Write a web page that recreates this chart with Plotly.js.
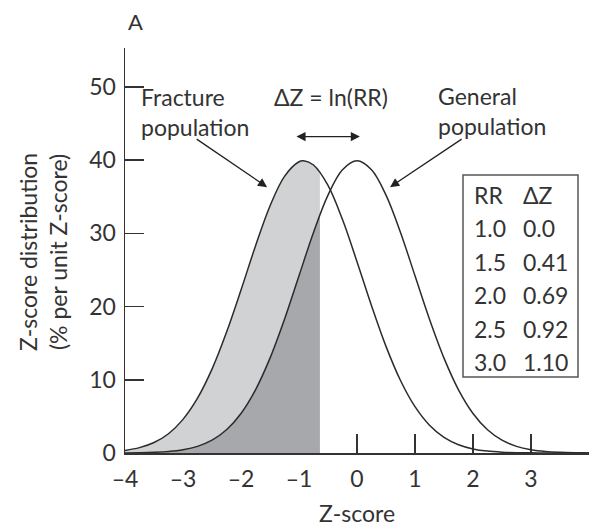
<!DOCTYPE html>
<html>
<head>
<meta charset="utf-8">
<script src="https://cdn.plot.ly/plotly-3.0.1.min.js"></script>
<style>html,body{margin:0;padding:0;background:#fff;}#chart{width:589px;height:526px;}</style>
</head>
<body>
<div id="chart"></div>
<script>
// ---- data ----
const generalX = [-4,-3.75,-3.5,-3.25,-3,-2.75,-2.5,-2.25,-2,-1.75,-1.5,-1.25,-1,-0.75,-0.5,-0.25,0,0.25,0.5,0.75,1,1.25,1.5,1.75,2,2.25,2.5,2.75,3,3.25,3.5,3.75,4];
const generalY = [0.013,0.035,0.087,0.20,0.44,0.91,1.75,3.17,5.40,8.63,12.95,18.26,24.20,30.11,35.21,38.67,39.89,38.67,35.21,30.11,24.20,18.26,12.95,8.63,5.40,3.17,1.75,0.91,0.44,0.20,0.087,0.035,0.013];
const fractureX = [-4,-3.75,-3.5,-3.25,-3,-2.75,-2.5,-2.25,-2,-1.75,-1.5,-1.25,-1,-0.92,-0.75,-0.5,-0.25,0,0.25,0.5,0.75,1,1.25,1.5,1.75,2,2.25,2.5,2.75,3,3.25,3.5,3.75,4];
const fractureY = [0.35,0.73,1.43,2.63,4.59,7.48,11.45,16.48,22.25,28.27,33.73,37.77,39.77,39.89,39.32,36.54,31.87,26.12,20.12,14.56,9.90,6.32,3.79,2.13,1.13,0.56,0.26,0.115,0.047,0.018,0.006,0.002,0.001,0.0];
const shadeCut = -0.64;
const fractureAtCut = 38.36;
const generalAtCut = 32.5;
const xTicks = [-4,-3,-2,-1,0,1,2,3,4];
const yTicks = [0,10,20,30,40,50];
const tableHeader = ['RR','\u0394Z'];
const rrValues = ['1.0','1.5','2.0','2.5','3.0'];
const dzValues = ['0.0','0.41','0.69','0.92','1.10'];

// ---- build shaded areas from the data ----
function upToCut(xs, ys, yCut){
  const ox=[], oy=[];
  xs.forEach((x,i)=>{ if(x<shadeCut){ox.push(x);oy.push(ys[i]);} });
  ox.push(shadeCut); oy.push(yCut);
  return {x:ox,y:oy};
}
const lightShade = upToCut(fractureX, fractureY, fractureAtCut);
const darkShade = upToCut(generalX, generalY, generalAtCut);

const FONT = 'Lato, "DejaVu Sans", sans-serif';
const TXT = '#333';
const LINE = '#2b2b2b';

const traces = [
  {x:lightShade.x, y:lightShade.y, mode:'lines', fill:'tozeroy', fillcolor:'#d1d2d4', line:{width:0, shape:'spline'}, hoverinfo:'skip'},
  {x:darkShade.x, y:darkShade.y, mode:'lines', fill:'tozeroy', fillcolor:'#a7a8ab', line:{width:0, shape:'spline'}, hoverinfo:'skip'},
  {x:generalX, y:generalY, mode:'lines', line:{color:LINE, width:1.5, shape:'spline'}},
  {x:fractureX, y:fractureY, mode:'lines', line:{color:LINE, width:1.5, shape:'spline'}}
];

// pixel -> paper helpers (plot area geometry)
const L=125, T=48, W=464, H=405;
const px = v => (v-L)/W;
const py = v => (T+H-v)/H;

const fs = 23;
const ann = [];
function txt(text, x, y, opts){
  ann.push(Object.assign({text:text, xref:'paper', yref:'paper', x:px(x), y:py(y), showarrow:false,
    font:{family:FONT, size:fs, color:TXT}, xanchor:'center', yanchor:'middle'}, opts||{}));
}
txt('A', 135, 22, {font:{family:FONT, size:22, color:TXT}});
txt('Fracture<br>population', 139, 112, {xanchor:'left', align:'left'});
txt('\u0394Z = ln(RR)', 331, 97);
txt('General<br>population', 436, 111, {xanchor:'left', align:'left'});
txt('Z-score', 357, 513);
txt('Z-score distribution<br>(% per unit Z-score)', 43, 252, {textangle:-90});
// table
txt(tableHeader[0], 472, 195, {xanchor:'left'});
txt(tableHeader[1], 521, 195, {xanchor:'left'});
rrValues.forEach((rr,i)=>{
  const yy = 228 + i*33.5;
  txt(rr, 472, yy, {xanchor:'left'});
  txt(dzValues[i], 521, yy, {xanchor:'left'});
});
// arrows
const arrowBase = {xref:'x', yref:'y', axref:'x', ayref:'y', text:'', showarrow:true, arrowhead:2, arrowsize:1.4, arrowwidth:1.3, arrowcolor:'#222', standoff:0, startstandoff:0};
ann.push(Object.assign({}, arrowBase, {x:-1.55, y:36.3, ax:-2.79, ay:43.0}));
ann.push(Object.assign({}, arrowBase, {x:0.57, y:36.3, ax:1.83, ay:43.0}));
ann.push(Object.assign({}, arrowBase, {x:0.05, y:43.2, ax:-1.07, ay:43.2, arrowside:'end+start', startarrowhead:2, startarrowsize:1.4}));

const layout = {
  width:589, height:526,
  margin:{l:L, r:0, t:T, b:526-T-H},
  paper_bgcolor:'#fff', plot_bgcolor:'#fff',
  showlegend:false,
  font:{family:FONT, size:fs, color:TXT},
  xaxis:{range:[-4,4], tickvals:xTicks, ticktext:xTicks.map(v=> v<0 ? '\u2013'+Math.abs(v) : String(v)),
    ticks:'inside', ticklen:19, tickwidth:1.5, tickcolor:'#333', showline:true, linecolor:'#333', linewidth:1.5,
    showgrid:false, zeroline:false, layer:'below traces', automargin:false, ticklabelstandoff:5,
    tickfont:{family:FONT, size:fs, color:TXT}, fixedrange:true},
  yaxis:{range:[0,55.3], tickvals:yTicks, ticks:'inside', ticklen:19, tickwidth:1.5, tickcolor:'#333',
    showline:true, linecolor:'#333', linewidth:1.5, showgrid:false, zeroline:false, layer:'below traces',
    automargin:false, ticklabelstandoff:3, tickfont:{family:FONT, size:fs, color:TXT}, fixedrange:true},
  shapes:[{type:'rect', xref:'paper', yref:'paper', x0:px(463), x1:px(578), y0:py(377), y1:py(175),
    line:{color:'#555', width:1.5}, fillcolor:'rgba(0,0,0,0)', layer:'above'}],
  annotations:ann
};
Plotly.newPlot('chart', traces, layout, {staticPlot:true, displayModeBar:false});
</script>
</body>
</html>
